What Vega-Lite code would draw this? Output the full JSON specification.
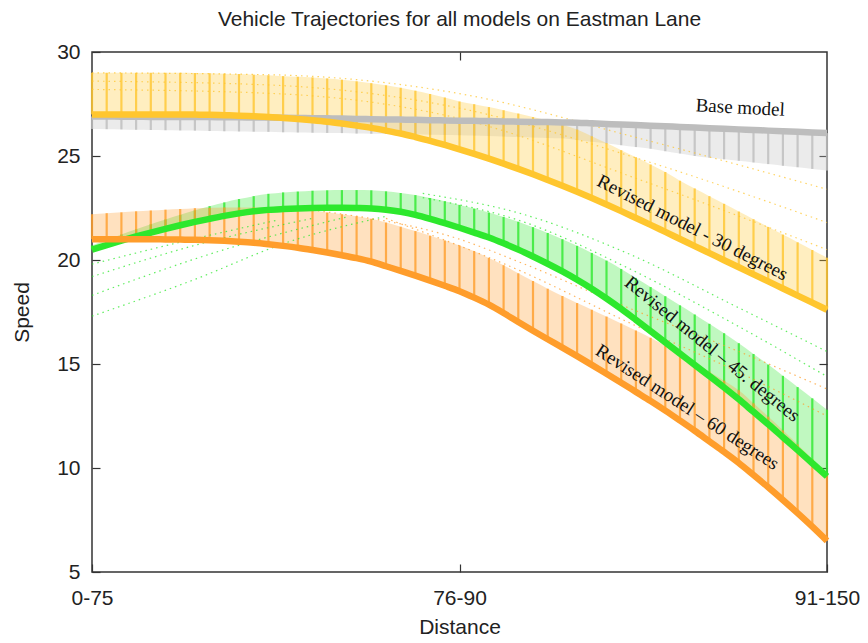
{
"$schema": "https://vega.github.io/schema/vega-lite/v6.json",
"width": 735, "height": 520,
"autosize": {"type": "none"},
"padding": {"left": 92, "top": 52, "right": 41, "bottom": 71},
"background": "white",
"config": {"view": {"stroke": "#333", "strokeWidth": 1.5}},
"title": {"text": "Vehicle Trajectories for all models on Eastman Lane", "font": "Liberation Sans", "fontSize": 21, "fontWeight": "normal", "color": "#222", "offset": 11},
"datasets": {
"bands": [
{"m":"b","x":0,"y":26.90,"e":26.30},{"m":"b","x":0.04,"y":26.90,"e":26.29},{"m":"b","x":0.08,"y":26.89,"e":26.28},{"m":"b","x":0.12,"y":26.89,"e":26.26},{"m":"b","x":0.16,"y":26.88,"e":26.25},{"m":"b","x":0.20,"y":26.88,"e":26.24},{"m":"b","x":0.24,"y":26.88,"e":26.23},{"m":"b","x":0.28,"y":26.87,"e":26.22},{"m":"b","x":0.32,"y":26.87,"e":26.20},{"m":"b","x":0.36,"y":26.86,"e":26.19},{"m":"b","x":0.40,"y":26.86,"e":26.18},{"m":"b","x":0.44,"y":26.85,"e":26.17},{"m":"b","x":0.48,"y":26.85,"e":26.16},{"m":"b","x":0.52,"y":26.84,"e":26.14},{"m":"b","x":0.56,"y":26.83,"e":26.13},{"m":"b","x":0.60,"y":26.82,"e":26.12},{"m":"b","x":0.64,"y":26.81,"e":26.11},{"m":"b","x":0.68,"y":26.80,"e":26.10},{"m":"b","x":0.72,"y":26.78,"e":26.08},{"m":"b","x":0.76,"y":26.77,"e":26.07},{"m":"b","x":0.80,"y":26.76,"e":26.06},{"m":"b","x":0.84,"y":26.75,"e":26.05},{"m":"b","x":0.88,"y":26.74,"e":26.04},{"m":"b","x":0.92,"y":26.72,"e":26.02},{"m":"b","x":0.96,"y":26.71,"e":26.01},{"m":"b","x":1.00,"y":26.70,"e":26.00},{"m":"b","x":1.04,"y":26.69,"e":25.98},{"m":"b","x":1.08,"y":26.68,"e":25.96},{"m":"b","x":1.12,"y":26.66,"e":25.94},{"m":"b","x":1.16,"y":26.65,"e":25.91},{"m":"b","x":1.20,"y":26.64,"e":25.89},{"m":"b","x":1.24,"y":26.63,"e":25.87},{"m":"b","x":1.28,"y":26.61,"e":25.85},{"m":"b","x":1.32,"y":26.60,"e":25.77},{"m":"b","x":1.36,"y":26.57,"e":25.68},{"m":"b","x":1.40,"y":26.54,"e":25.60},{"m":"b","x":1.44,"y":26.51,"e":25.52},{"m":"b","x":1.48,"y":26.49,"e":25.43},{"m":"b","x":1.52,"y":26.46,"e":25.35},{"m":"b","x":1.56,"y":26.43,"e":25.23},{"m":"b","x":1.60,"y":26.40,"e":25.12},{"m":"b","x":1.64,"y":26.37,"e":25.00},{"m":"b","x":1.68,"y":26.34,"e":24.92},{"m":"b","x":1.72,"y":26.31,"e":24.84},{"m":"b","x":1.76,"y":26.28,"e":24.77},{"m":"b","x":1.80,"y":26.25,"e":24.69},{"m":"b","x":1.84,"y":26.22,"e":24.61},{"m":"b","x":1.88,"y":26.19,"e":24.53},{"m":"b","x":1.92,"y":26.16,"e":24.46},{"m":"b","x":1.96,"y":26.13,"e":24.38},{"m":"b","x":2.00,"y":26.10,"e":24.30},
{"m":"g","x":0,"y":27.00,"e":29.00},{"m":"g","x":0.04,"y":27.00,"e":29.00},{"m":"g","x":0.08,"y":27.00,"e":29.00},{"m":"g","x":0.12,"y":27.00,"e":29.00},{"m":"g","x":0.16,"y":27.00,"e":29.00},{"m":"g","x":0.20,"y":27.00,"e":29.00},{"m":"g","x":0.24,"y":27.00,"e":29.00},{"m":"g","x":0.28,"y":26.99,"e":28.99},{"m":"g","x":0.32,"y":26.98,"e":28.98},{"m":"g","x":0.36,"y":26.96,"e":28.96},{"m":"g","x":0.40,"y":26.94,"e":28.94},{"m":"g","x":0.44,"y":26.91,"e":28.91},{"m":"g","x":0.48,"y":26.88,"e":28.88},{"m":"g","x":0.52,"y":26.83,"e":28.84},{"m":"g","x":0.56,"y":26.78,"e":28.81},{"m":"g","x":0.60,"y":26.72,"e":28.78},{"m":"g","x":0.64,"y":26.65,"e":28.73},{"m":"g","x":0.68,"y":26.56,"e":28.67},{"m":"g","x":0.72,"y":26.46,"e":28.59},{"m":"g","x":0.76,"y":26.35,"e":28.50},{"m":"g","x":0.80,"y":26.22,"e":28.40},{"m":"g","x":0.84,"y":26.08,"e":28.28},{"m":"g","x":0.88,"y":25.91,"e":28.14},{"m":"g","x":0.92,"y":25.73,"e":27.98},{"m":"g","x":0.96,"y":25.53,"e":27.81},{"m":"g","x":1.00,"y":25.32,"e":27.62},{"m":"g","x":1.04,"y":25.10,"e":27.49},{"m":"g","x":1.08,"y":24.87,"e":27.35},{"m":"g","x":1.12,"y":24.63,"e":27.20},{"m":"g","x":1.16,"y":24.38,"e":27.04},{"m":"g","x":1.20,"y":24.12,"e":26.87},{"m":"g","x":1.24,"y":23.85,"e":26.69},{"m":"g","x":1.28,"y":23.57,"e":26.50},{"m":"g","x":1.32,"y":23.28,"e":26.27},{"m":"g","x":1.36,"y":22.98,"e":25.95},{"m":"g","x":1.40,"y":22.67,"e":25.62},{"m":"g","x":1.44,"y":22.35,"e":25.28},{"m":"g","x":1.48,"y":22.02,"e":24.94},{"m":"g","x":1.52,"y":21.69,"e":24.59},{"m":"g","x":1.56,"y":21.35,"e":24.23},{"m":"g","x":1.60,"y":21.01,"e":23.81},{"m":"g","x":1.64,"y":20.67,"e":23.44},{"m":"g","x":1.68,"y":20.33,"e":23.07},{"m":"g","x":1.72,"y":19.99,"e":22.70},{"m":"g","x":1.76,"y":19.65,"e":22.33},{"m":"g","x":1.80,"y":19.31,"e":21.96},{"m":"g","x":1.84,"y":18.97,"e":21.59},{"m":"g","x":1.88,"y":18.63,"e":21.22},{"m":"g","x":1.92,"y":18.29,"e":20.85},{"m":"g","x":1.96,"y":17.95,"e":20.48},{"m":"g","x":2.00,"y":17.61,"e":20.11},
{"m":"n","x":0,"y":20.50,"e":20.70},{"m":"n","x":0.04,"y":20.72,"e":20.97},{"m":"n","x":0.08,"y":20.93,"e":21.23},{"m":"n","x":0.12,"y":21.13,"e":21.48},{"m":"n","x":0.16,"y":21.32,"e":21.72},{"m":"n","x":0.20,"y":21.50,"e":21.95},{"m":"n","x":0.24,"y":21.67,"e":22.17},{"m":"n","x":0.28,"y":21.83,"e":22.39},{"m":"n","x":0.32,"y":21.98,"e":22.59},{"m":"n","x":0.36,"y":22.12,"e":22.77},{"m":"n","x":0.40,"y":22.24,"e":22.93},{"m":"n","x":0.44,"y":22.34,"e":23.07},{"m":"n","x":0.48,"y":22.41,"e":23.18},{"m":"n","x":0.52,"y":22.45,"e":23.25},{"m":"n","x":0.56,"y":22.48,"e":23.29},{"m":"n","x":0.60,"y":22.50,"e":23.33},{"m":"n","x":0.64,"y":22.51,"e":23.35},{"m":"n","x":0.68,"y":22.51,"e":23.36},{"m":"n","x":0.72,"y":22.50,"e":23.36},{"m":"n","x":0.76,"y":22.48,"e":23.35},{"m":"n","x":0.80,"y":22.42,"e":23.30},{"m":"n","x":0.84,"y":22.32,"e":23.22},{"m":"n","x":0.88,"y":22.17,"e":23.12},{"m":"n","x":0.92,"y":21.98,"e":22.98},{"m":"n","x":0.96,"y":21.77,"e":22.82},{"m":"n","x":1.00,"y":21.55,"e":22.65},{"m":"n","x":1.04,"y":21.32,"e":22.47},{"m":"n","x":1.08,"y":21.08,"e":22.28},{"m":"n","x":1.12,"y":20.80,"e":22.07},{"m":"n","x":1.16,"y":20.50,"e":21.84},{"m":"n","x":1.20,"y":20.17,"e":21.58},{"m":"n","x":1.24,"y":19.82,"e":21.30},{"m":"n","x":1.28,"y":19.45,"e":21.00},{"m":"n","x":1.32,"y":19.05,"e":20.68},{"m":"n","x":1.36,"y":18.62,"e":20.34},{"m":"n","x":1.40,"y":18.15,"e":19.97},{"m":"n","x":1.44,"y":17.65,"e":19.57},{"m":"n","x":1.48,"y":17.12,"e":19.14},{"m":"n","x":1.52,"y":16.58,"e":18.70},{"m":"n","x":1.56,"y":16.04,"e":18.26},{"m":"n","x":1.60,"y":15.50,"e":17.82},{"m":"n","x":1.64,"y":14.96,"e":17.38},{"m":"n","x":1.68,"y":14.42,"e":16.93},{"m":"n","x":1.72,"y":13.87,"e":16.48},{"m":"n","x":1.76,"y":13.30,"e":16.00},{"m":"n","x":1.80,"y":12.70,"e":15.48},{"m":"n","x":1.84,"y":12.10,"e":14.97},{"m":"n","x":1.88,"y":11.48,"e":14.43},{"m":"n","x":1.92,"y":10.86,"e":13.89},{"m":"n","x":1.96,"y":10.23,"e":13.35},{"m":"n","x":2.00,"y":9.60,"e":12.80},
{"m":"o","x":0,"y":21.00,"e":22.20},{"m":"o","x":0.04,"y":21.00,"e":22.25},{"m":"o","x":0.08,"y":21.00,"e":22.29},{"m":"o","x":0.12,"y":21.00,"e":22.34},{"m":"o","x":0.16,"y":21.00,"e":22.38},{"m":"o","x":0.20,"y":20.99,"e":22.42},{"m":"o","x":0.24,"y":20.98,"e":22.45},{"m":"o","x":0.28,"y":20.97,"e":22.49},{"m":"o","x":0.32,"y":20.95,"e":22.51},{"m":"o","x":0.36,"y":20.92,"e":22.53},{"m":"o","x":0.40,"y":20.88,"e":22.53},{"m":"o","x":0.44,"y":20.83,"e":22.53},{"m":"o","x":0.48,"y":20.76,"e":22.50},{"m":"o","x":0.52,"y":20.68,"e":22.47},{"m":"o","x":0.56,"y":20.59,"e":22.42},{"m":"o","x":0.60,"y":20.48,"e":22.36},{"m":"o","x":0.64,"y":20.36,"e":22.28},{"m":"o","x":0.68,"y":20.23,"e":22.20},{"m":"o","x":0.72,"y":20.09,"e":22.10},{"m":"o","x":0.76,"y":19.92,"e":21.98},{"m":"o","x":0.80,"y":19.70,"e":21.80},{"m":"o","x":0.84,"y":19.48,"e":21.60},{"m":"o","x":0.88,"y":19.25,"e":21.39},{"m":"o","x":0.92,"y":19.01,"e":21.17},{"m":"o","x":0.96,"y":18.76,"e":20.94},{"m":"o","x":1.00,"y":18.50,"e":20.70},{"m":"o","x":1.04,"y":18.19,"e":20.42},{"m":"o","x":1.08,"y":17.85,"e":20.10},{"m":"o","x":1.12,"y":17.45,"e":19.75},{"m":"o","x":1.16,"y":17.02,"e":19.36},{"m":"o","x":1.20,"y":16.60,"e":18.99},{"m":"o","x":1.24,"y":16.19,"e":18.62},{"m":"o","x":1.28,"y":15.79,"e":18.27},{"m":"o","x":1.32,"y":15.38,"e":17.93},{"m":"o","x":1.36,"y":14.96,"e":17.61},{"m":"o","x":1.40,"y":14.53,"e":17.28},{"m":"o","x":1.44,"y":14.10,"e":16.95},{"m":"o","x":1.48,"y":13.66,"e":16.61},{"m":"o","x":1.52,"y":13.22,"e":16.26},{"m":"o","x":1.56,"y":12.76,"e":15.88},{"m":"o","x":1.60,"y":12.28,"e":15.48},{"m":"o","x":1.64,"y":11.79,"e":15.06},{"m":"o","x":1.68,"y":11.28,"e":14.63},{"m":"o","x":1.72,"y":10.77,"e":14.20},{"m":"o","x":1.76,"y":10.24,"e":13.74},{"m":"o","x":1.80,"y":9.66,"e":13.11},{"m":"o","x":1.84,"y":9.07,"e":12.47},{"m":"o","x":1.88,"y":8.46,"e":11.81},{"m":"o","x":1.92,"y":7.83,"e":11.13},{"m":"o","x":1.96,"y":7.18,"e":10.43},{"m":"o","x":2.00,"y":6.50,"e":9.70}
],
"dots": [
{"m":"g","id":"g1","x":0,"v":29.0},{"m":"g","id":"g1","x":0.5,"v":28.9},{"m":"g","id":"g1","x":1.0,"v":28.0},{"m":"g","id":"g1","x":1.5,"v":25.8},{"m":"g","id":"g1","x":2.0,"v":23.4},
{"m":"g","id":"g2","x":0,"v":28.6},{"m":"g","id":"g2","x":0.5,"v":28.4},{"m":"g","id":"g2","x":1.0,"v":27.3},{"m":"g","id":"g2","x":1.5,"v":24.8},{"m":"g","id":"g2","x":2.0,"v":21.8},
{"m":"g","id":"g3","x":0,"v":28.2},{"m":"g","id":"g3","x":0.5,"v":28.0},{"m":"g","id":"g3","x":1.0,"v":26.8},{"m":"g","id":"g3","x":1.5,"v":23.8},{"m":"g","id":"g3","x":2.0,"v":20.5},
{"m":"n","id":"n1","x":0,"v":17.3},{"m":"n","id":"n1","x":0.27,"v":19.0},{"m":"n","id":"n1","x":0.54,"v":20.9},{"m":"n","id":"n1","x":0.8,"v":22.1},
{"m":"n","id":"n2","x":0,"v":18.3},{"m":"n","id":"n2","x":0.36,"v":20.5},{"m":"n","id":"n2","x":0.7,"v":22.1},
{"m":"n","id":"n3","x":0,"v":19.2},{"m":"n","id":"n3","x":0.3,"v":20.8},{"m":"n","id":"n3","x":0.6,"v":22.0},
{"m":"n","id":"n4","x":0,"v":19.8},{"m":"n","id":"n4","x":0.25,"v":20.9},{"m":"n","id":"n4","x":0.5,"v":21.9},
{"m":"n","id":"n5","x":0.9,"v":23.2},{"m":"n","id":"n5","x":1.163,"v":22.25},{"m":"n","id":"n5","x":1.46,"v":20.3},{"m":"n","id":"n5","x":1.76,"v":17.7},{"m":"n","id":"n5","x":2.0,"v":15.6},
{"m":"n","id":"n6","x":0.9,"v":23.0},{"m":"n","id":"n6","x":1.163,"v":21.9},{"m":"n","id":"n6","x":1.46,"v":19.6},{"m":"n","id":"n6","x":1.76,"v":16.8},{"m":"n","id":"n6","x":2.0,"v":14.4},
{"m":"o","id":"o1","x":0.6,"v":22.4},{"m":"o","id":"o1","x":1.0,"v":21.0},{"m":"o","id":"o1","x":1.163,"v":19.9},{"m":"o","id":"o1","x":1.46,"v":17.7},{"m":"o","id":"o1","x":1.76,"v":15.6},{"m":"o","id":"o1","x":2.0,"v":13.8},
{"m":"o","id":"o2","x":0.8,"v":22.0},{"m":"o","id":"o2","x":1.163,"v":19.5},{"m":"o","id":"o2","x":1.46,"v":17.0},{"m":"o","id":"o2","x":1.76,"v":14.6},{"m":"o","id":"o2","x":2.0,"v":12.5}
],
"labels": [
{"t":"Base model","x":1.764,"y":27.33,"a":3},
{"t":"Revised model - 30 degrees","x":1.634,"y":21.56,"a":27},
{"t":"Revised model – 45. degrees","x":1.688,"y":15.72,"a":39},
{"t":"Revised model – 60 degrees","x":1.62,"y":12.93,"a":33}
]
},
"layer": [
{"data": {"name": "bands"},
 "mark": {"type": "area", "opacity": 0.3, "interpolate": "monotone"},
 "encoding": {
  "x": {"field": "x", "type": "quantitative", "scale": {"domain": [0, 2], "nice": false},
        "axis": {"orient": "bottom", "values": [0, 1, 2], "labelExpr": "datum.value == 0 ? '0-75' : datum.value == 1 ? '76-90' : '91-150'", "grid": false, "domain": false, "tickSize": -8, "tickColor": "#333", "tickWidth": 1.2, "labelPadding": 23, "labelFont": "Liberation Sans", "labelFontSize": 21, "labelColor": "#222", "labelFlush": false, "title": "Distance", "titleFont": "Liberation Sans", "titleFontSize": 21, "titleFontWeight": "normal", "titleColor": "#222", "titlePadding": 8}},
  "y": {"field": "y", "type": "quantitative", "scale": {"domain": [5, 30], "nice": false, "zero": false},
        "axis": {"orient": "left", "values": [5, 10, 15, 20, 25, 30], "grid": false, "domain": false, "tickSize": -8, "tickColor": "#333", "tickWidth": 1.2, "labelPadding": 20, "labelFont": "Liberation Sans", "labelFontSize": 21, "labelColor": "#222", "labelFlush": false, "title": "Speed", "titleFont": "Liberation Sans", "titleFontSize": 21, "titleFontWeight": "normal", "titleColor": "#222", "titlePadding": 24}},
  "y2": {"field": "e"},
  "color": {"field": "m", "type": "nominal", "scale": {"domain": ["b", "g", "n", "o"], "range": ["#bdbdbd", "#ffc62e", "#2de82d", "#ff9d2b"]}, "legend": null}
 }},
{"data": {"name": "bands"},
 "mark": {"type": "rule", "strokeWidth": 2.2, "strokeOpacity": 0.8},
 "encoding": {
  "x": {"field": "x", "type": "quantitative", "axis": null},
  "y": {"field": "y", "type": "quantitative", "axis": null},
  "y2": {"field": "e"},
  "color": {"field": "m", "type": "nominal", "legend": null}
 }},
{"data": {"name": "dots"},
 "mark": {"type": "line", "strokeWidth": 1.2, "strokeDash": [1.5, 4], "interpolate": "monotone", "opacity": 0.75},
 "encoding": {
  "x": {"field": "x", "type": "quantitative", "axis": null},
  "y": {"field": "v", "type": "quantitative", "axis": null},
  "detail": {"field": "id"},
  "color": {"field": "m", "type": "nominal", "legend": null}
 }},
{"data": {"name": "bands"},
 "mark": {"type": "line", "strokeWidth": 6.5, "interpolate": "monotone"},
 "encoding": {
  "x": {"field": "x", "type": "quantitative", "axis": null},
  "y": {"field": "y", "type": "quantitative", "axis": null},
  "color": {"field": "m", "type": "nominal", "legend": null}
 }},
{"data": {"name": "labels"},
 "mark": {"type": "text", "font": "Liberation Serif", "fontSize": 19, "color": "#111", "align": "center", "baseline": "middle"},
 "encoding": {
  "x": {"field": "x", "type": "quantitative", "axis": {"orient": "top", "values": [1], "labels": false, "grid": false, "domain": false, "tickSize": -8, "tickColor": "#333", "tickWidth": 1.2, "title": null}},
  "y": {"field": "y", "type": "quantitative", "axis": {"orient": "right", "values": [10, 15, 20, 25], "labels": false, "grid": false, "domain": false, "tickSize": -8, "tickColor": "#333", "tickWidth": 1.2, "title": null}},
  "text": {"field": "t"},
  "angle": {"field": "a", "type": "quantitative", "scale": null}
 }}
],
"resolve": {"scale": {"x": "shared", "y": "shared"}, "axis": {"x": "independent", "y": "independent"}}
}
